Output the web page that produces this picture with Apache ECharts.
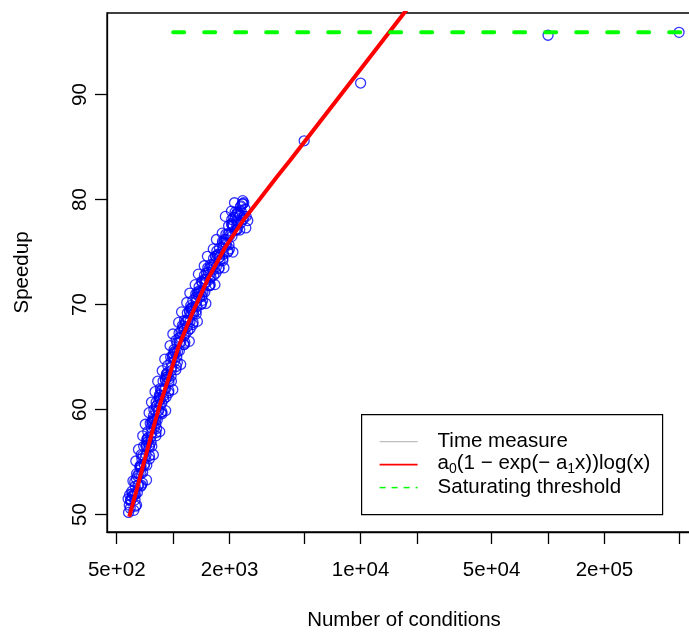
<!DOCTYPE html>
<html>
<head>
<meta charset="utf-8">
<script src="https://cdn.jsdelivr.net/npm/echarts@6/dist/echarts.min.js"></script>
<style>
  html, body { margin: 0; padding: 0; background: #fff; }
  #myChart { width: 689px; height: 632px; }
</style>
</head>
<body>
<div id="myChart"></div>
<script>
// measured points: number of conditions vs speedup
const condX = [
  578, 583, 575, 590, 586, 595,
  593, 617, 605, 601, 626, 638, 614, 648, 622, 610, 673, 644, 624, 657,
  638, 685, 665, 632, 687, 721, 666, 709, 674, 653, 746, 703, 675, 717,
  696, 747, 725, 688, 747, 784, 725, 770, 732, 710, 809, 762, 732, 778,
  754, 809, 785, 744, 808, 848, 784, 831, 791, 766, 872, 822, 789, 838,
  811, 870, 845, 800, 869, 912, 843, 898, 854, 827, 945, 891, 855, 909,
  883, 948, 920, 874, 949, 996, 921, 979, 931, 902, 1034, 975, 936, 995,
  970, 1040, 1010, 963, 1045, 1097, 1014, 1081, 1028, 996, 1145, 1079, 1036, 1101,
  1075, 1154, 1120, 1070, 1162, 1219, 1127, 1204, 1145, 1109, 1271, 1198, 1150, 1222,
  1190, 1277, 1240, 1181, 1283, 1346, 1245, 1331, 1266, 1227, 1407, 1327, 1273, 1353,
  1320, 1416, 1375, 1311, 1424, 1495, 1382, 1479, 1407, 1363, 1565, 1475, 1416, 1505,
  1469, 1576, 1530, 1465, 1591, 1670, 1544, 1652, 1571, 1523, 1748, 1648, 1582, 1682,
  1642, 1761, 1710, 1637, 1778, 1866, 1725, 1846, 1756, 1701, 1953, 1841, 1767, 1879,
  1834, 1967, 1910, 1827, 1985, 2083, 1926, 2060, 1959, 1899, 2142, 2059, 1976, 2101,
  2054, 2204, 2140, 2046, 2222, 2266, 2156, 2305, 2192, 2124, 2390, 2297, 2204, 2343,
  2285, 2451, 2380, 2350, 2300, 2420, 2500, 2440,
  594, 630, 627, 602, 655, 629, 637, 677, 672, 645, 701, 673, 681, 723, 717, 688,
  747, 717, 725, 769, 762, 732, 793, 761, 768, 816, 807, 775, 838, 806, 812, 862,
  852, 818, 887, 853, 863, 917, 910, 874, 949, 911, 922, 979, 972, 933, 1017, 977,
  991, 1053, 1047, 1005, 1097, 1054, 1072, 1138, 1135, 1090, 1188, 1142, 1159, 1231,
  1225, 1176, 1280, 1230, 1248, 1326, 1322, 1269, 1384, 1330, 1350, 1434, 1430, 1373,
  1499, 1441, 1465, 1555, 1552, 1490, 1629, 1565, 1593, 1691, 1687, 1620, 1770, 1700,
  1731, 1839, 1835, 1762, 1923, 1847, 1879, 1995, 1992, 1912, 2091, 2009, 2047, 2173,
  2170, 2083, 2275, 2185, 2221, 2359, 2350, 2256,
  5000, 10000, 100000, 500000
];
const condSpeedup = [
  50.2, 50.9, 51.5, 50.6, 51.9, 51.4,
  51.3, 50.4, 52.0, 52.2, 51.4, 50.9, 51.9, 52.8, 51.9, 53.2, 52.7, 52.1, 53.1, 53.9,
  53.9, 53.0, 54.6, 55.1, 54.0, 53.3, 54.5, 55.4, 54.5, 56.2, 55.3, 54.7, 55.7, 56.5,
  56.5, 55.6, 57.2, 57.5, 56.4, 55.7, 56.9, 57.8, 56.9, 58.6, 57.5, 56.9, 57.9, 58.7,
  58.7, 57.8, 59.4, 59.7, 58.6, 57.9, 59.1, 59.9, 59.0, 60.7, 59.6, 59.0, 60.0, 60.8,
  60.7, 59.8, 61.4, 61.7, 60.6, 59.9, 61.1, 61.9, 61.0, 62.7, 61.6, 61.0, 62.0, 62.8,
  62.7, 61.8, 63.4, 63.7, 62.6, 61.9, 63.1, 64.0, 63.1, 64.8, 63.8, 63.2, 64.2, 65.0,
  65.0, 64.1, 65.7, 66.1, 65.0, 64.3, 65.5, 66.4, 65.5, 67.2, 66.2, 65.6, 66.6, 67.4,
  67.3, 66.4, 68.0, 68.3, 67.2, 66.5, 67.7, 68.5, 67.6, 69.3, 68.1, 67.5, 68.5, 69.3,
  69.2, 68.3, 69.9, 70.2, 69.1, 68.4, 69.6, 70.3, 69.4, 71.1, 70.0, 69.4, 70.4, 71.2,
  71.0, 70.1, 71.7, 71.9, 70.8, 70.1, 71.3, 72.1, 71.2, 72.9, 71.8, 71.2, 72.2, 73.0,
  72.8, 71.9, 73.5, 73.7, 72.6, 71.9, 73.1, 73.8, 72.9, 74.6, 73.4, 72.8, 73.8, 74.6,
  74.4, 73.5, 75.1, 75.3, 74.2, 73.5, 74.7, 75.4, 74.5, 76.2, 75.0, 74.4, 75.4, 76.2,
  76.0, 75.1, 76.7, 76.8, 75.7, 75.0, 76.2, 77.6, 76.7, 78.4, 77.1, 76.5, 77.5, 78.3,
  78.1, 77.2, 78.8, 78.9, 77.8, 77.1, 78.3, 78.9, 78.0, 79.7, 78.4, 77.8, 78.8, 79.6,
  79.3, 78.4, 79.7, 79.9, 79.4, 79.1, 78.0, 77.3,
  51.4, 50.8, 52.7, 51.7, 52.8, 51.9, 53.4, 52.8, 54.7, 53.7, 54.8, 53.9, 55.3, 54.7, 56.6, 55.6,
  56.6, 55.7, 57.1, 56.5, 58.3, 57.3, 58.3, 57.4, 58.8, 58.2, 59.9, 58.9, 59.9, 59.0, 60.3, 59.7,
  61.4, 60.4, 61.3, 60.4, 61.8, 61.2, 62.9, 61.9, 62.9, 62.0, 63.3, 62.7, 64.5, 63.5, 64.6, 63.7,
  65.1, 64.5, 66.3, 65.3, 66.4, 65.5, 66.8, 66.2, 67.9, 66.9, 67.9, 67.0, 68.3, 67.7,
  69.4, 68.4, 69.3, 68.4, 69.7, 69.1, 70.7, 69.7, 70.7, 69.8, 71.0, 70.4, 72.1, 71.1,
  72.1, 71.2, 72.4, 71.8, 73.4, 72.4, 73.3, 72.4, 73.6, 73.0, 74.6, 73.6, 74.5, 73.6,
  74.8, 74.2, 75.8, 74.8, 75.7, 74.8, 75.9, 75.3, 76.8, 75.8, 77.5, 76.6, 77.7, 77.1,
  78.6, 77.6, 78.5, 77.6, 78.7, 78.1, 79.6, 78.6,
  85.6, 91.1, 95.65, 95.93
];
// fitted curve a0(1-exp(-a1 x))log(x)
const fitX = [583, 644, 710, 783, 854, 942, 1065, 1264, 1520, 1895, 2364, 2913, 3588, 4209, 17060, 20000];
const fitSpeedup = [49.8, 52.6, 55.46, 58.22, 60.6, 62.89, 65.93, 69.17, 72.31, 75.46, 78.03, 80.1, 82.2, 83.75, 97.77, 99.37];
// saturating threshold
const thresholdX = [1000, 1000000];
const thresholdSpeedup = [95.93, 95.93];
// axis ticks
const xTicks = [500, 1000, 2000, 5000, 10000, 20000, 50000, 100000, 200000, 500000];
const xTickLabels = [500, 2000, 10000, 50000, 200000];
const yTicks = [50, 60, 70, 80, 90];

const FONT = "'Liberation Sans', Arial, sans-serif";
const FS = 20.5;

function sciLabel(v) {
  const e = Math.floor(Math.log10(v) + 1e-9);
  const m = Math.round(v / Math.pow(10, e));
  return m + 'e+' + String(e).padStart(2, '0');
}

const pairs = (xs, ys) => xs.map((x, i) => [x, ys[i]]);

let myChart = echarts.init(document.getElementById('myChart'), null, { renderer: 'canvas' });
let option = {
  animation: false,
  backgroundColor: '#fff',
  textStyle: { fontFamily: FONT },
  grid: {
    left: 107, top: 13, right: -12, bottom: 100,
    outerBoundsMode: 'none',
    containLabel: false,
    show: true, borderColor: '#000', borderWidth: 1.3, backgroundColor: 'transparent'
  },
  xAxis: {
    type: 'log',
    logBase: 10,
    min: 443.6,
    max: 654600,
    name: 'Number of conditions',
    nameLocation: 'middle',
    nameGap: 78,
    nameTextStyle: { fontFamily: FONT, fontSize: FS, color: '#000' },
    axisLine: { show: true, lineStyle: { color: '#000', width: 1.3 } },
    axisTick: { show: true, length: 12, customValues: xTicks, lineStyle: { color: '#000', width: 1.3 } },
    axisLabel: {
      customValues: xTickLabels,
      margin: 28,
      fontFamily: FONT, fontSize: FS, color: '#000',
      formatter: v => sciLabel(v)
    },
    splitLine: { show: false },
    minorTick: { show: false }
  },
  yAxis: {
    type: 'value',
    min: 48.34,
    max: 97.77,
    name: 'Speedup',
    nameLocation: 'middle',
    nameGap: 74,
    nameTextStyle: { fontFamily: FONT, fontSize: FS, color: '#000' },
    axisLine: { show: true, lineStyle: { color: '#000', width: 1.3 } },
    axisTick: { show: true, length: 12, customValues: yTicks, lineStyle: { color: '#000', width: 1.3 } },
    axisLabel: {
      customValues: yTicks,
      rotate: 90,
      margin: 27,
      align: 'center',
      verticalAlign: 'middle',
      fontFamily: FONT, fontSize: FS, color: '#000'
    },
    splitLine: { show: false }
  },
  series: [
    {
      name: 'Time measure',
      type: 'scatter',
      symbol: 'circle',
      symbolSize: 10,
      z: 2,
      itemStyle: { color: 'rgba(0,0,0,0)', borderColor: '#0000ff', borderWidth: 1.3 },
      data: pairs(condX, condSpeedup)
    },
    {
      name: 'fit',
      type: 'line',
      showSymbol: false,
      symbol: 'none',
      z: 3,
      clip: true,
      lineStyle: { color: '#ff0000', width: 4 },
      data: pairs(fitX, fitSpeedup)
    },
    {
      name: 'Saturating threshold',
      type: 'line',
      showSymbol: false,
      symbol: 'none',
      z: 4,
      clip: true,
      lineStyle: { color: '#00ff00', width: 4, type: [11, 20], cap: 'round' },
      data: pairs(thresholdX, thresholdSpeedup)
    }
  ],
  graphic: [
    {
      type: 'group',
      left: 361, top: 414,
      children: [
        { type: 'rect', shape: { x: 0, y: 0, width: 301, height: 100 },
          style: { fill: '#fff', stroke: '#000', lineWidth: 1.2 } },
        { type: 'line', shape: { x1: 18, y1: 27, x2: 56, y2: 27 },
          style: { stroke: '#bebebe', lineWidth: 1.2 } },
        { type: 'line', shape: { x1: 18, y1: 50, x2: 56, y2: 50 },
          style: { stroke: '#ff0000', lineWidth: 1.7 } },
        { type: 'line', shape: { x1: 18, y1: 73, x2: 56, y2: 73 },
          style: { stroke: '#00ff00', lineWidth: 1.5, lineDash: [6, 6] } },
        { type: 'text', x: 76, y: 27,
          style: { text: 'Time measure', font: FS + 'px ' + FONT, fill: '#000', verticalAlign: 'middle' } },
        { type: 'text', x: 76, y: 50,
          style: {
            text: '{n|a}{s|0}{n|(1 \u2212 exp(\u2212 a}{s|1}{n|x))log(x)}',
            fill: '#000', verticalAlign: 'middle',
            rich: {
              n: { fontFamily: FONT, fontSize: FS, lineHeight: 24, verticalAlign: 'top' },
              s: { fontFamily: FONT, fontSize: 14, lineHeight: 14, verticalAlign: 'bottom' }
            }
          } },
        { type: 'text', x: 76, y: 73,
          style: { text: 'Saturating threshold', font: FS + 'px ' + FONT, fill: '#000', verticalAlign: 'middle' } }
      ]
    }
  ]
};
myChart.setOption(option);
</script>
</body>
</html>
